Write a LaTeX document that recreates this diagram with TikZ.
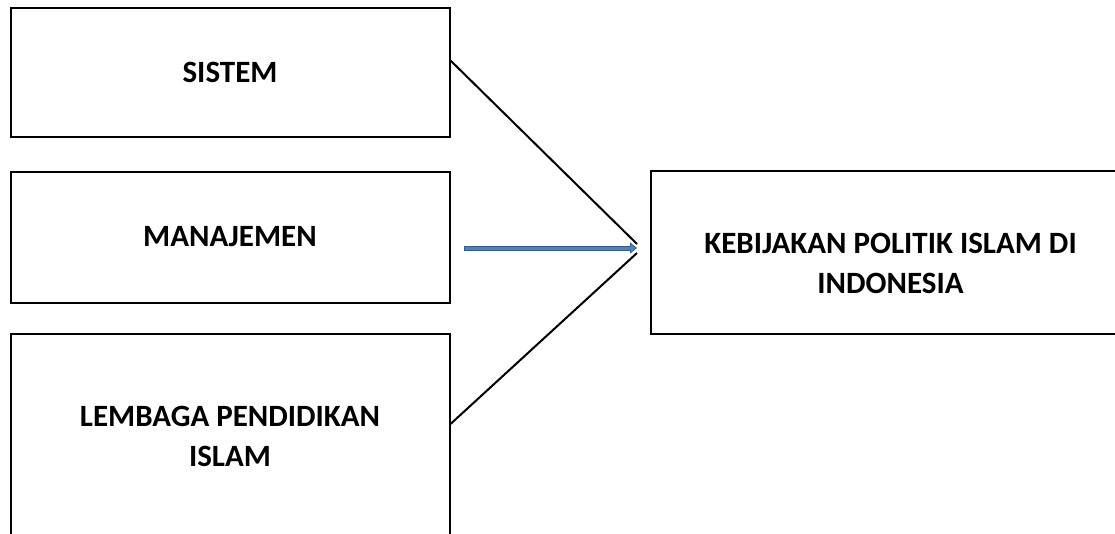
\documentclass[tikz,border=0pt]{standalone}
\usepackage{fontspec}
\setmainfont{Carlito}
\usepackage{tikz}
\usetikzlibrary{arrows.meta}

\definecolor{arrowfill}{HTML}{4F81BD}
\definecolor{arrowedge}{HTML}{385D8A}

\begin{document}
\begin{tikzpicture}[x=1pt,y=-1pt]
	
	\tikzset{box/.style = {shape=rectangle,draw,line width=2pt,align=center,font=\fontsize{31}{40}\selectfont\bfseries}}
	\tikzset{edge/.style = {-,line width=2pt}}
	
	\useasboundingbox (0,0) rectangle (1115,533);
	\clip (0,0) rectangle (1115,533);
	
	\node[box,minimum width=439pt,minimum height=129pt] (sistem) at (230,72.5) {SISTEM};
	\node[box,minimum width=439pt,minimum height=131pt] (manajemen) at (230,237) {MANAJEMEN};
	\node[box,minimum width=439pt,minimum height=204pt] (lembaga) at (230,436) {LEMBAGA PENDIDIKAN\\ISLAM};
	\node[box,minimum width=479pt,minimum height=163pt,text height=82pt,text depth=1pt] (kebijakan) at (890.5,252.5) {KEBIJAKAN POLITIK ISLAM DI\\INDONESIA};
	
	\coordinate (tip) at (637,248);
	
	\draw[edge] ([yshift=12pt]sistem.east) to ([yshift=4pt]tip);
	\draw[edge] ([yshift=12pt]lembaga.east) to ([yshift=-5pt]tip);
	
	\draw[line width=5pt,arrowedge,shorten <=13pt,-{Triangle[length=7pt 0,width=11pt 0]}] (manajemen.east |- tip) to (tip);
	\draw[line width=3pt,arrowfill,shorten <=14pt,shorten >=1.5pt,-{Triangle[length=4.5pt 0,width=7.5pt 0]}] (manajemen.east |- tip) to (tip);
\end{tikzpicture}
\end{document}
